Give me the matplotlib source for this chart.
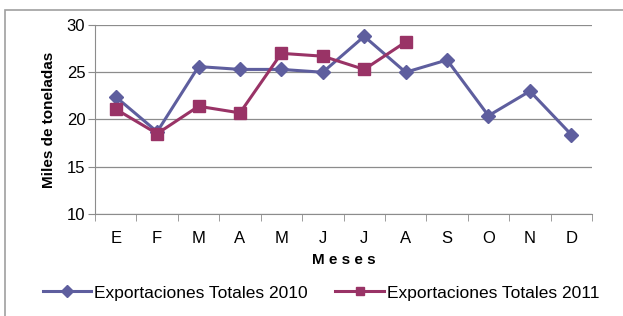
import matplotlib
matplotlib.use("Agg")
import matplotlib.pyplot as plt
from matplotlib.patches import Rectangle
from matplotlib.lines import Line2D

months = ["E", "F", "M", "A", "M", "J", "J", "A", "S", "O", "N", "D"]
exp_2010 = [22.4, 18.7, 25.6, 25.3, 25.3, 25.0, 28.8, 25.0, 26.3, 20.4, 23.0, 18.4]
exp_2011 = [21.1, 18.5, 21.4, 20.7, 27.0, 26.7, 25.3, 28.2]
yticks = [10, 15, 20, 25, 30]

c2010 = "#5E5E9E"
c2011 = "#993366"

plt.rcParams['font.family'] = ['Liberation Sans', 'DejaVu Sans']

fig = plt.figure(figsize=(6.23, 3.16), dpi=100)
# outer chart border
fig.add_artist(Rectangle((5/623, -0.01), 2, 1 - 10/316 + 0.01, transform=fig.transFigure,
                         fill=False, edgecolor="#a0a0a0", linewidth=1.2))

ax = fig.add_axes([95/623, 1 - 214/316, (592 - 95)/623, (214 - 25)/316])
x = list(range(len(months)))
ax.plot(x, exp_2010, color=c2010, linewidth=2.2, marker="D", markersize=7.5, zorder=3)
ax.plot(list(range(len(exp_2011))), exp_2011, color=c2011, linewidth=2.2, marker="s",
        markersize=9, zorder=4)

ax.set_xlim(-0.5, 11.5)
ax.set_ylim(10, 30)
ax.set_yticks(yticks)
ax.yaxis.grid(True, color="#8c8c8c", linewidth=0.9)
ax.set_axisbelow(True)
for s in ["top", "right"]:
    ax.spines[s].set_visible(False)
ax.spines["left"].set_color("#8c8c8c")
ax.spines["bottom"].set_color("#8c8c8c")
ax.set_xticks(x)
ax.set_xticklabels(months, fontsize=12)
ax.tick_params(axis="x", length=0, pad=12)
ax.set_xticks([i - 0.5 for i in range(13)], minor=True)
ax.tick_params(axis="x", which="minor", length=5, color="#8c8c8c")
ax.tick_params(axis="y", labelsize=12, length=5, color="#8c8c8c", pad=2)
ax.set_ylabel("Miles de toneladas", fontsize=11, fontweight="bold", labelpad=8)
ax.set_xlabel("M e s e s", fontsize=11, fontweight="bold", labelpad=5)

handles = [Line2D([], [], color=c2010, linewidth=2.2, marker="D", markersize=6),
           Line2D([], [], color=c2011, linewidth=2.2, marker="s", markersize=6)]
fig.legend(handles, ["Exportaciones Totales 2010", "Exportaciones Totales 2011"],
           loc="center", bbox_to_anchor=(0.515, 1 - 293/316), ncol=2, frameon=False,
           fontsize=12.5, handlelength=2.8, handletextpad=0.15, columnspacing=1.6)

fig.savefig("out.png", dpi=100)
